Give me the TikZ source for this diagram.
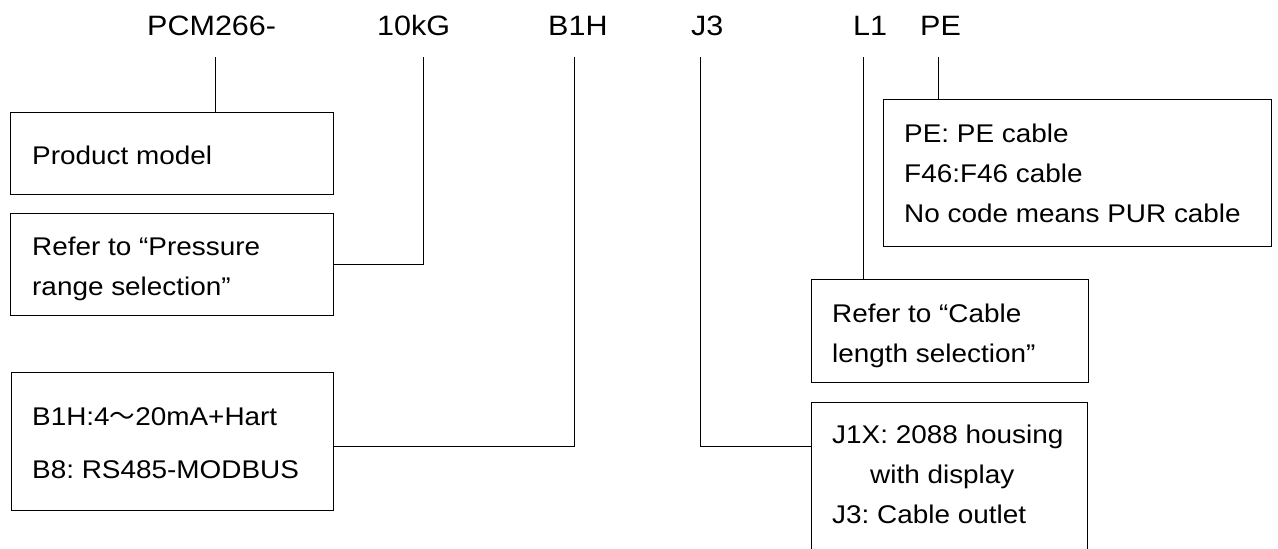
\documentclass[tikz,border=0pt]{standalone}
\usepackage{fontspec}
\setmainfont[FakeStretch=1.09]{Liberation Sans}
\newfontfamily\cjkfont{Noto Sans CJK SC}
\frenchspacing
\begin{document}
\begin{tikzpicture}[x=1pt,y=-1pt,
  box/.style={draw, line width=1.2pt, inner sep=0pt, anchor=north west},
  txt/.style={anchor=base west, inner sep=0pt, font=\fontsize{25.6pt}{40pt}\selectfont},
  code/.style={anchor=base west, inner sep=0pt, font=\fontsize{28pt}{34pt}\selectfont},
  wire/.style={line width=1pt}]
\useasboundingbox (0,0) rectangle (1278,549);
\clip (0,0) rectangle (1278,549);
\fill[white] (0,0) rectangle (1278,549);

% top code labels
\node[code] (lpcm) at (147,35) {PCM266-};
\node[code] (lrng) at (377,35) {10kG};
\node[code] (lout) at (548,35) {B1H};
\node[code] (lcon) at (691,35) {J3};
\node[code] (llen) at (853,35) {L1};
\node[code] (lcab) at (920,35) {PE};

% boxes
\node[box, minimum width=323pt, minimum height=82pt] (pm) at (10,112) {};
\node[box, minimum width=323pt, minimum height=102pt] (pr) at (10,213) {};
\node[box, minimum width=322pt, minimum height=138pt] (bb) at (11,372) {};
\node[box, minimum width=388pt, minimum height=147pt] (pe) at (883,99) {};
\node[box, minimum width=277pt, minimum height=103pt] (lb) at (811,279) {};
\node[box, minimum width=276pt, minimum height=170pt] (jb) at (811,402) {};

% box texts
\node[txt] (tpm) at (32,164) {Product model};
\node[txt] (tpr1) at (32,255) {Refer to “Pressure};
\node[txt] (tpr2) at (32,295) {range selection”};
\node[txt] (tb1) at (32,425) {B1H:4{\cjkfont ～}20mA+Hart};
\node[txt] (tb2) at (32,478) {B8: RS485-MODBUS};
\node[txt] (tpe1) at (904,142) {PE: PE cable};
\node[txt] (tpe2) at (904,182) {F46:F46 cable};
\node[txt] (tpe3) at (904,222) {No code means PUR cable};
\node[txt] (tl1) at (832,322) {Refer to “Cable};
\node[txt] (tl2) at (832,362) {length selection”};
\node[txt] (tj1) at (832,443) {J1X: 2088 housing};
\node[txt] (tj2) at (870,483) {with display};
\node[txt] (tj3) at (832,523) {J3: Cable outlet};

% connector anchors
\coordinate (cpcm) at (215,57);
\coordinate (crng) at (423,57);
\coordinate (cout) at (574,57);
\coordinate (ccon) at (700,57);
\coordinate (clen) at (863,57);
\coordinate (ccab) at (938,57);
\coordinate (kout) at (574,446);
\coordinate (kcon) at (700,446);

% connectors
\draw[wire] (cpcm) -- (cpcm |- pm.north);
\draw[wire] (crng) |- (pr.east);
\draw[wire] (cout) -- (kout) -- (kout -| bb.east);
\draw[wire] (ccon) -- (kcon) -- (kcon -| jb.west);
\draw[wire] (clen) -- (clen |- lb.north);
\draw[wire] (ccab) -- (ccab |- pe.north);
\end{tikzpicture}
\end{document}
